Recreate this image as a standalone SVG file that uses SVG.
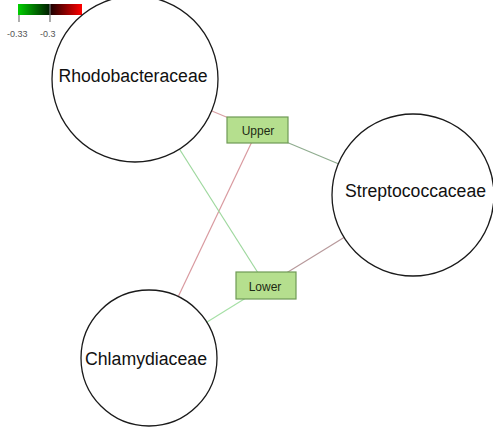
<svg xmlns="http://www.w3.org/2000/svg" width="493" height="433" viewBox="0 0 493 433">
<style>
.node{fill:#ffffff;stroke:#1a1a1a;stroke-width:1.3}
.lbl{font-family:"Liberation Sans",Arial,sans-serif;font-size:18px;fill:#111;text-anchor:middle}
.box{fill:#b5df8e;stroke:#6f9a55;stroke-width:1.2}
.blbl{font-family:"Liberation Sans",Arial,sans-serif;font-size:12px;fill:#1d2a14;text-anchor:middle}
.leg{font-family:"Liberation Sans",Arial,sans-serif;font-size:9px;fill:#555}
.e{fill:none;stroke-width:1.2}
</style>
<defs>
<linearGradient id="gg" x1="0" x2="1" y1="0" y2="0"><stop offset="0" stop-color="#00d000"/><stop offset="1" stop-color="#001a00"/></linearGradient>
<linearGradient id="rg" x1="0" x2="1" y1="0" y2="0"><stop offset="0" stop-color="#1a0000"/><stop offset="1" stop-color="#ff0000"/></linearGradient>
</defs>
<rect width="493" height="433" fill="#ffffff"/>
<g id="connectors">
<line class="e" x1="135" y1="79" x2="257.5" y2="130" stroke="#d9a0a4"/>
<line class="e" x1="257.5" y1="130" x2="413" y2="195" stroke="#8fac8f"/>
<line class="e" x1="257.5" y1="130" x2="149" y2="358" stroke="#d99aa0"/>
<line class="e" x1="135" y1="79" x2="266" y2="285.5" stroke="#9ed89e"/>
<line class="e" x1="266" y1="285.5" x2="413" y2="195" stroke="#b89a9c"/>
<line class="e" x1="266" y1="285.5" x2="149" y2="358" stroke="#a6e0a6"/>
</g>
<g id="legend">
<rect x="18" y="4" width="32" height="11" fill="url(#gg)"/>
<rect x="50" y="4" width="32" height="11" fill="url(#rg)"/>
<line x1="50" y1="4" x2="50" y2="22" stroke="#777" stroke-width="1.2"/>
<line x1="19" y1="15" x2="19" y2="22" stroke="#777" stroke-width="1.2"/>
<text class="leg" x="7" y="37">-0.33</text>
<text class="leg" x="40" y="37">-0.3</text>
</g>
<g id="Rhodobacteraceae">
<circle class="node" cx="135" cy="79" r="83"/>
<text class="lbl" x="133" y="82" textLength="149" lengthAdjust="spacingAndGlyphs">Rhodobacteraceae</text>
</g>
<g id="Streptococcaceae">
<circle class="node" cx="413" cy="195" r="81"/>
<text class="lbl" x="415.5" y="197" textLength="141" lengthAdjust="spacingAndGlyphs">Streptococcaceae</text>
</g>
<g id="Chlamydiaceae">
<circle class="node" cx="149" cy="358" r="68"/>
<text class="lbl" x="146" y="365" textLength="122" lengthAdjust="spacingAndGlyphs">Chlamydiaceae</text>
</g>
<g id="Upper">
<rect class="box" x="227" y="117" width="61" height="26"/>
<text class="blbl" x="258" y="135">Upper</text>
</g>
<g id="Lower">
<rect class="box" x="236" y="272" width="60" height="27"/>
<text class="blbl" x="265" y="291">Lower</text>
</g>
</svg>
